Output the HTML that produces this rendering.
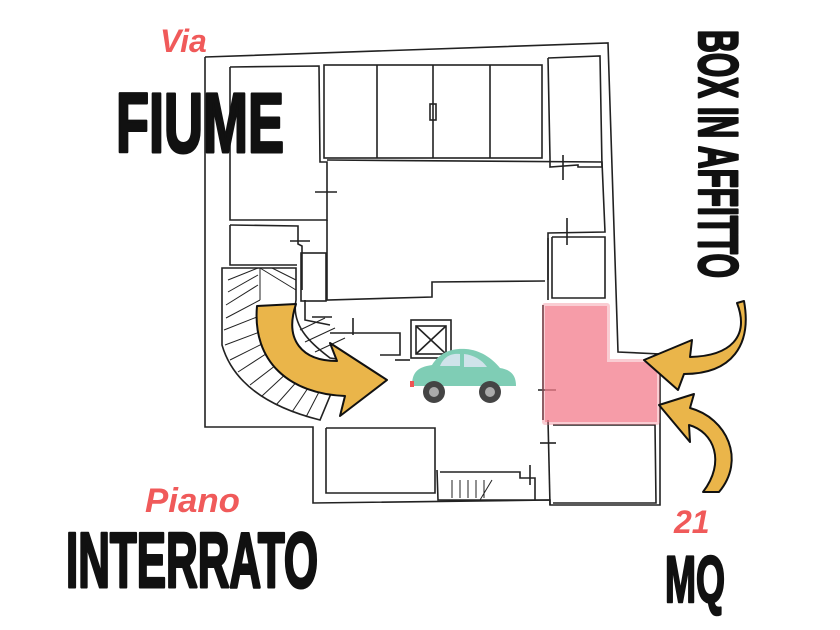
<!DOCTYPE html>
<html><head><meta charset="utf-8"><style>
html,body{margin:0;padding:0;background:#fff;}
svg{display:block}
</style></head><body>
<svg width="840" height="630" viewBox="0 0 840 630" xmlns="http://www.w3.org/2000/svg">
<rect width="840" height="630" fill="#fff"/>
<g fill="none" stroke="#222" stroke-width="1.6">
<polyline points="205,57 608,43 618,352 660,354 660,505 550,505 550,500 313,503 313,427 205,427 205,57"/>
<rect x="324" y="65" width="218" height="93"/>
<line x1="377" y1="65" x2="377" y2="158"/><line x1="433" y1="65" x2="433" y2="158"/><line x1="490" y1="65" x2="490" y2="158"/>
<rect x="430" y="104" width="6" height="16"/>
<polyline points="548,58 600,56 602,167 578,167 578,165 550,167 550,158 548,58"/>
<polyline points="230,67 319,66 320,162 327,162 327,220 230,220 230,67"/>
<polyline points="327,160 602,162 605,232 548,233 548,280"/>
<polyline points="230,225 298,226 298,244 302,246 302,290"/>
<polyline points="230,225 230,265 297,265"/>
<rect x="301" y="253" width="25" height="48"/>
<polyline points="327,220 327,300 432,297 432,282 545,281"/>
<polyline points="552,237 605,237 605,298 552,298 552,237"/>
<polyline points="305,300 305,320 330,325"/>
<path d="M222,268 L296,268 L296,300 C290,330 320,350 330,358 L345,360 L320,420 C280,410 235,390 222,345 Z"/>
<g stroke-width="1">
<line x1="228" y1="280" x2="258" y2="268"/><line x1="228" y1="292" x2="258" y2="275"/><line x1="226" y1="305" x2="258" y2="285"/><line x1="226" y1="318" x2="260" y2="300"/><line x1="224" y1="330" x2="262" y2="315"/><line x1="225" y1="345" x2="265" y2="330"/><line x1="230" y1="360" x2="270" y2="340"/><line x1="238" y1="372" x2="272" y2="350"/><line x1="250" y1="385" x2="280" y2="362"/><line x1="262" y1="396" x2="290" y2="370"/><line x1="276" y1="405" x2="300" y2="378"/><line x1="292" y1="412" x2="310" y2="385"/><line x1="306" y1="417" x2="320" y2="390"/>
<line x1="260" y1="268" x2="296" y2="290"/><line x1="272" y1="268" x2="296" y2="280"/><line x1="260" y1="268" x2="260" y2="300"/>
<line x1="300" y1="330" x2="325" y2="318"/><line x1="305" y1="342" x2="335" y2="328"/><line x1="315" y1="352" x2="345" y2="338"/>
</g>
<rect x="411" y="320" width="40" height="38"/>
<rect x="416" y="326" width="30" height="28"/><line x1="416" y1="326" x2="446" y2="354"/><line x1="446" y1="326" x2="416" y2="354"/>
<polyline points="330,333 400,333 400,355 380,355"/>
<polyline points="395,360 410,360"/>
<polyline points="326,428 435,428 435,493 326,493 326,428"/>
<polyline points="437,470 438,500 550,500"/>
<polyline points="440,472 520,472 520,478 535,478 535,500"/>
<g stroke-width="1"><line x1="452" y1="480" x2="452" y2="498"/><line x1="460" y1="480" x2="460" y2="498"/><line x1="468" y1="480" x2="468" y2="498"/><line x1="476" y1="480" x2="476" y2="498"/><line x1="484" y1="480" x2="484" y2="498"/><line x1="492" y1="480" x2="480" y2="500"/></g>
<polyline points="548,420 550,505"/>
<polyline points="553,425 655,425 656,503 553,503"/>
<line x1="548" y1="238" x2="548" y2="300"/>
<line x1="543" y1="305" x2="543" y2="420"/>
<line x1="315" y1="192" x2="337" y2="192"/><line x1="290" y1="241" x2="310" y2="241"/><line x1="563" y1="155" x2="563" y2="180"/><line x1="567" y1="218" x2="567" y2="245"/><line x1="312" y1="317" x2="332" y2="317"/><line x1="353" y1="318" x2="353" y2="335"/><line x1="538" y1="390" x2="556" y2="390"/><line x1="540" y1="443" x2="556" y2="443"/><line x1="530" y1="465" x2="530" y2="485"/>
</g>
<path d="M545,306 L607,306 L607,362 L657,362 L657,422 L545,422 Z" fill="#f47c8b" opacity="0.75" stroke="#f47c8b" stroke-opacity="0.5" stroke-width="6" stroke-linejoin="round"/>
<g>
<path d="M412,386 C412,370 420,367 432,365 C440,352 452,348 466,349 C480,350 492,358 500,368 C512,370 516,376 516,386 Z" fill="#7fcdb5"/>
<path d="M440,366 C444,356 452,353 460,354 L460,366 Z M464,354 C474,355 482,360 487,367 L464,367 Z" fill="#cfe3ea"/>
<circle cx="434" cy="392" r="11" fill="#444"/><circle cx="434" cy="392" r="5" fill="#aaa"/>
<circle cx="490" cy="392" r="11" fill="#444"/><circle cx="490" cy="392" r="5" fill="#aaa"/>
<rect x="410" y="381" width="4" height="6" fill="#e55"/>
</g>
<g fill="#eab54a" stroke="#111" stroke-width="2" stroke-linejoin="round">
<path d="M257,306 C252,362 290,394 345,396 L340,416 L387,380 L330,343 L337,361 C302,361 284,340 296,304 Z"/>
<path d="M737,303 C750,337 730,356 690,357 L692,340 L644,360 L678,390 L684,374 C732,374 752,345 744,301 Z"/>
<path d="M719,492 C746,460 727,418 690,408 L694,394 L659,405 L690,442 L689,425 C714,432 726,462 703,492 Z"/>
</g>
<g font-family="'Liberation Sans Narrow','Liberation Sans',sans-serif" font-weight="bold" stroke-linejoin="round">
<text x="160" y="52" font-size="32" fill="#f05a5a" font-style="italic">Via</text>
<text x="116" y="152" font-size="84" fill="#111" stroke="#111" stroke-width="3" textLength="168" lengthAdjust="spacingAndGlyphs">FIUME</text>
<text x="145" y="512" font-size="34" fill="#f05a5a" font-style="italic" textLength="95" lengthAdjust="spacingAndGlyphs">Piano</text>
<text x="66" y="587" font-size="78" fill="#111" stroke="#111" stroke-width="3" textLength="252" lengthAdjust="spacingAndGlyphs">INTERRATO</text>
<text x="674" y="533" font-size="32" fill="#f05a5a" font-style="italic">21</text>
<text x="665" y="602" font-size="66" fill="#111" stroke="#111" stroke-width="2.5" textLength="60" lengthAdjust="spacingAndGlyphs">MQ</text>
<text transform="translate(699 30) rotate(90)" font-size="56" fill="#111" stroke="#111" stroke-width="2.5" textLength="248" lengthAdjust="spacingAndGlyphs">BOX IN AFFITTO</text>
</g>
</svg>
</body></html>
